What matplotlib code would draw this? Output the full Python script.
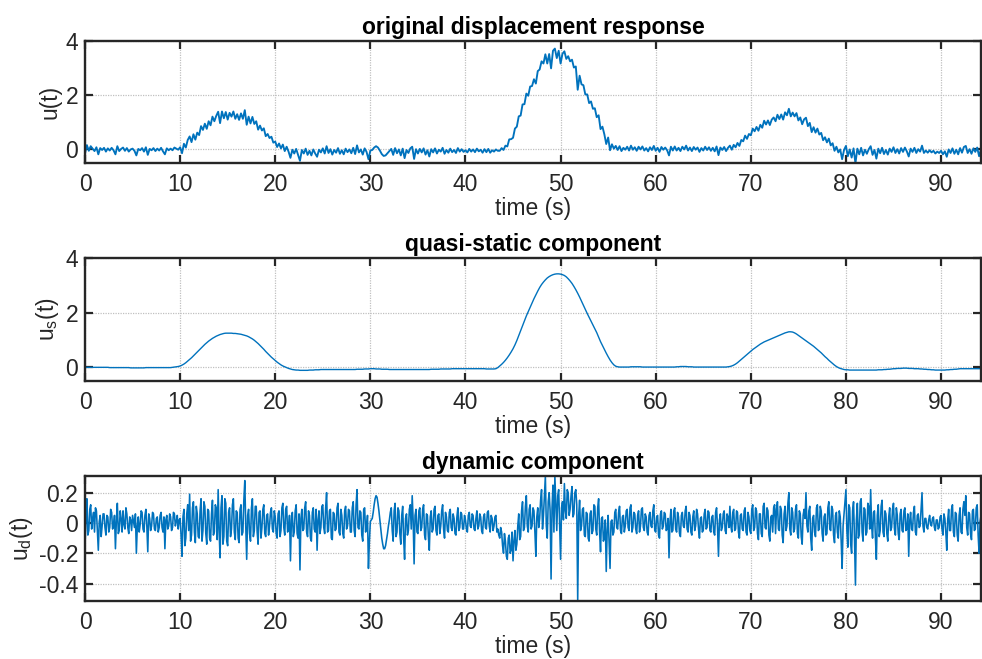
import numpy as np
import matplotlib
matplotlib.use("Agg")
import matplotlib.pyplot as plt

# ---------------- data ----------------
# quasi-static component, sampled every 0.2 s (0 .. 94.2 s)
dt_s = 0.2
us = [
    0, 0, 0, 0, 0,                      # 0
    0, 0, 0, 0, 0,                      # 1
    0, 0, 0, -.01, -.01,                # 2
    -.01, -.01, -.01, -.01, -.01,       # 3
    -.01, -.01, -.01, -.01, -.02,       # 4
    -.02, -.02, -.02, -.02, -.02,       # 5
    -.02, -.02, -.01, -.01, -.01,       # 6
    -.01, -.01, -.01, -.01, -.01,       # 7
    -.01, -.01, -.01, -.01, -.01,       # 8
    -.01, 0, .01, .02, .03,             # 9
    .05, .08, .12, .17, .23,            # 10
    .29, .35, .42, .49, .56,            # 11
    .63, .70, .77, .84, .90,            # 12
    .96, 1.01, 1.06, 1.10, 1.14,        # 13
    1.17, 1.20, 1.22, 1.24, 1.25,       # 14
    1.25, 1.25, 1.25, 1.24, 1.24,       # 15
    1.23, 1.22, 1.21, 1.19, 1.17,       # 16
    1.15, 1.12, 1.08, 1.04, .99,        # 17
    .93, .87, .80, .73, .66,            # 18
    .58, .51, .44, .37, .31,            # 19
    .25, .19, .14, .09, .05,            # 20
    .02, -.01, -.04, -.06, -.08,        # 21
    -.09, -.10, -.10, -.11, -.11,       # 22
    -.11, -.11, -.11, -.10, -.10,       # 23
    -.10, -.09, -.09, -.09, -.08,       # 24
    -.08, -.08, -.08, -.08, -.08,       # 25
    -.08, -.08, -.08, -.08, -.08,       # 26
    -.08, -.08, -.08, -.08, -.08,       # 27
    -.08, -.08, -.08, -.07, -.07,       # 28
    -.07, -.07, -.06, -.06, -.06,       # 29
    -.05, -.05, -.05, -.06, -.06,       # 30
    -.06, -.07, -.07, -.07, -.07,       # 31
    -.08, -.08, -.08, -.08, -.08,       # 32
    -.08, -.08, -.08, -.08, -.08,       # 33
    -.08, -.08, -.08, -.08, -.08,       # 34
    -.08, -.08, -.08, -.08, -.08,       # 35
    -.08, -.08, -.07, -.07, -.07,       # 36
    -.07, -.07, -.06, -.06, -.06,       # 37
    -.06, -.06, -.06, -.05, -.05,       # 38
    -.05, -.05, -.05, -.05, -.05,       # 39
    -.05, -.05, -.05, -.05, -.05,       # 40
    -.05, -.05, -.05, -.05, -.05,       # 41
    -.05, -.06, -.06, -.06, -.06,       # 42
    -.06, -.05, -.01, .05, .11,         # 43
    .18, .26, .35, .45, .56,            # 44
    .68, .82, .98, 1.16, 1.34,          # 45
    1.52, 1.70, 1.88, 2.04, 2.20,       # 46
    2.36, 2.51, 2.65, 2.79, 2.92,       # 47
    3.03, 3.12, 3.20, 3.27, 3.32,       # 48
    3.36, 3.39, 3.41, 3.42, 3.42,       # 49
    3.41, 3.39, 3.36, 3.31, 3.24,       # 50
    3.16, 3.07, 2.96, 2.84, 2.71,       # 51
    2.57, 2.42, 2.27, 2.12, 1.97,       # 52
    1.83, 1.69, 1.55, 1.41, 1.27,       # 53
    1.10, .94, .80, .66, .52,           # 54
    .39, .27, .17, .09, .04,            # 55
    .02, .01, .01, .01, .01,            # 56
    .01, .01, .02, .02, .02,            # 57
    .02, .02, .02, .01, .01,            # 58
    .01, .01, .01, .01, .01,            # 59
    .01, .01, .01, .01, .01,            # 60
    .01, .01, .01, .01, .01,            # 61
    .01, .02, .02, .03, .03,            # 62
    .03, .03, .02, .02, .02,            # 63
    .01, .01, .01, .01, .01,            # 64
    .01, .01, .01, .01, .01,            # 65
    .01, .01, .01, .01, .01,            # 66
    .01, .01, .01, .02, .03,            # 67
    .05, .08, .12, .17, .23,            # 68
    .29, .35, .41, .47, .53,            # 69
    .59, .65, .70, .75, .80,            # 70
    .85, .89, .93, .96, .99,            # 71
    1.02, 1.05, 1.08, 1.11, 1.14,       # 72
    1.17, 1.20, 1.23, 1.26, 1.28,       # 73
    1.30, 1.30, 1.29, 1.26, 1.22,       # 74
    1.17, 1.12, 1.07, 1.02, .97,        # 75
    .92, .87, .82, .77, .71,            # 76
    .65, .59, .53, .46, .39,            # 77
    .33, .26, .20, .14, .08,            # 78
    .03, -.01, -.04, -.06, -.08,        # 79
    -.09, -.09, -.10, -.10, -.10,       # 80
    -.10, -.10, -.10, -.10, -.10,       # 81
    -.10, -.10, -.10, -.10, -.10,       # 82
    -.10, -.10, -.09, -.09, -.09,       # 83
    -.08, -.08, -.07, -.07, -.06,       # 84
    -.05, -.05, -.04, -.04, -.04,       # 85
    -.03, -.03, -.03, -.04, -.04,       # 86
    -.04, -.05, -.05, -.05, -.06,       # 87
    -.06, -.07, -.07, -.08, -.08,       # 88
    -.09, -.09, -.10, -.10, -.10,       # 89
    -.10, -.10, -.10, -.09, -.09,       # 90
    -.08, -.08, -.07, -.07, -.06,       # 91
    -.05, -.05, -.05, -.05, -.05,       # 92
    -.05, -.05, -.05, -.05, -.05,       # 93
    -.05, -.05,                         # 94
]

# dynamic component, sampled every 0.1 s (0 .. 94.2 s)
dt_d = 0.1
ud = [
    -.15, .02, .16, -.08, -.05, .09, .12, -.04, .03, .07,     # 0
    -.06, .10, .08, -.05, -.18, .01, .05, -.09, -.02, .06,    # 1
    .06, -.03, -.08, .05, .04, -.06, -.03, .09, .07, -.04,    # 2
    -.02, .05, -.17, .02, .13, -.07, -.05, .08, .03, -.06,    # 3
    .08, -.01, -.04, .10, .06, -.03, -.07, .04, .02, -.05,    # 4
    .05, .01, -.03, .06, -.20, -.02, .04, -.06, -.01, .08,    # 5
    .07, -.04, -.06, .05, .09, -.02, -.19, .06, .03, -.05,    # 6
    -.02, .07, .06, -.04, -.05, .03, .04, -.06, -.03, .05,    # 7
    .07, -.03, -.06, .04, -.17, .02, .05, -.04, -.02, .06,    # 8
    .04, -.05, -.03, .07, .06, -.02, .01, .05, -.04, .02,     # 9
    .03, -.08, -.22, .04, .09, -.15, -.10, .06, .12, -.05,    # 10
    .19, -.12, -.08, .10, .14, -.06, -.13, .11, .06, -.09,    # 11
    -.10, .08, .16, -.12, -.05, .14, .11, -.07, -.14, .09,    # 12
    .08, -.10, -.12, .06, .15, -.08, -.06, .12, .10, -.11,    # 13
    .22, -.05, -.23, .10, .18, -.14, -.09, .16, .13, -.12,    # 14
    -.15, .07, .10, -.09, -.04, .12, .16, -.06, -.11, .08,    # 15
    .07, -.10, -.13, .09, .12, -.08, -.06, .15, .28, -.02,    # 16
    -.24, .05, .09, -.07, -.12, .10, .16, -.09, -.05, .11,    # 17
    .11, -.06, -.14, .07, .08, -.10, -.03, .09, .12, -.07,    # 18
    -.09, .05, .06, -.08, -.02, .07, .10, -.04, -.06, .08,    # 19
    .04, -.07, -.10, .06, .08, -.09, -.05, .10, .13, -.03,    # 20
    -.08, .09, .11, -.06, -.04, .05, -.25, .02, .07, -.09,    # 21
    -.06, .08, .12, -.07, -.10, .06, -.31, .03, .09, -.05,    # 22
    -.04, .10, .14, -.06, -.09, .08, .05, -.10, -.12, .07,    # 23
    .10, -.04, -.06, .09, -.18, .02, .08, -.07, -.03, .11,    # 24
    .12, -.03, -.07, .10, .20, -.06, -.05, .08, .09, -.10,    # 25
    -.11, .07, .06, -.05, -.04, .10, .13, -.06, -.08, .09,    # 26
    .05, -.07, -.10, .08, .11, -.04, -.02, .09, .08, -.06,    # 27
    -.06, .10, .14, -.05, -.09, .12, .22, -.03, -.04, .08,    # 28
    .07, -.08, -.12, .09, .10, -.06, -.03, .05, -.30, -.12,   # 29
    .01, .02, .03, .07, .12, .16, .18, .17, .13, .08,         # 30
    .02, -.04, -.10, -.14, -.17, -.17, -.15, -.11, -.07, -.02,  # 31
    .02, .07, .10, -.05, -.12, .08, .13, -.09, -.06, .10,     # 32
    .08, -.07, -.14, .05, .11, -.10, -.24, .03, .06, -.08,    # 33
    -.05, .09, .12, -.04, .18, .02, -.27, .05, .09, -.06,     # 34
    -.07, .08, .10, -.05, -.03, .09, .12, -.08, -.11, .06,    # 35
    .05, -.09, -.18, .04, .08, -.06, -.04, .09, .11, -.05,    # 36
    -.08, .05, .06, -.07, -.02, .08, .12, -.04, -.10, .07,    # 37
    .04, -.05, -.06, .07, .09, -.03, -.05, .06, .03, -.07,    # 38
    -.08, .04, .10, -.05, -.03, .07, .06, -.04, -.04, .05,    # 39
    .02, -.04, -.06, .05, .07, -.02, -.03, .06, .05, -.04,    # 40
    -.05, .03, .08, -.04, -.02, .06, .04, -.05, -.07, .04,    # 41
    .06, -.03, -.04, .07, .08, -.02, -.06, .05, .03, -.05,    # 42
    -.02, .04, .05, -.06, -.04, -.08, -.10, -.03, -.06, -.15, # 43
    -.20, -.07, -.12, -.22, -.24, -.10, -.08, -.20, -.18, -.06,  # 44
    -.25, -.12, -.05, -.18, -.14, -.02, .06, -.11, -.09, .08, # 45
    .14, -.05, -.03, .11, .18, -.02, -.06, .09, .12, -.04,    # 46
    -.02, .10, .08, -.06, -.22, .04, .10, -.03, .03, .15,     # 47
    .22, -.04, .05, .18, .31, -.02, -.10, .14, .20, .08,      # 48
    -.37, .10, .25, -.06, .31, .12, -.05, .18, .22, -.02,     # 49
    -.24, .10, .14, .02, .26, .08, .03, .22, .20, .05,        # 50
    .09, .18, .24, .04, .06, .20, .22, .12, -.51, .05,        # 51
    .15, -.05, -.02, .09, .10, -.08, -.09, .07, .06, -.10,    # 52
    -.12, .06, .08, -.07, -.05, .12, .11, -.04, -.08, .10,    # 53
    .16, -.06, -.19, .03, .04, -.12, -.10, .02, -.32, -.05,   # 54
    .05, -.12, -.30, .01, .02, -.08, -.06, .07, .09, -.03,    # 55
    -.04, .07, .11, -.05, -.07, .04, .05, -.06, -.02, .08,    # 56
    .09, -.03, -.05, .10, .12, -.06, -.03, .07, .06, -.04,    # 57
    -.07, .05, .08, -.06, -.02, .09, .10, -.03, -.05, .06,    # 58
    .04, -.06, -.08, .05, .07, -.02, -.03, .08, .12, -.05,    # 59
    -.06, .04, .05, -.08, -.10, .06, .08, -.04, -.02, .07,    # 60
    .06, -.05, -.04, .03, -.23, .01, .09, -.06, -.05, .08,    # 61
    .10, -.04, -.06, .07, .04, -.07, -.09, .05, .07, -.02,    # 62
    -.03, .08, .11, -.04, -.06, .07, .05, -.06, -.08, .04,    # 63
    .08, -.05, -.02, .09, .06, -.04, -.10, .03, .04, -.06,    # 64
    -.05, .06, .09, -.04, -.03, .08, .07, -.05, -.06, .04,    # 65
    .05, -.06, -.08, .07, .10, -.03, -.22, .02, .06, -.05,    # 66
    -.03, .06, .08, -.05, -.07, .06, .04, -.03, .11, -.02,    # 67
    -.06, .07, .09, -.05, -.04, .08, .07, -.06, -.10, .05,    # 68
    .06, -.04, -.05, .08, .10, -.06, -.08, .07, .04, -.05,    # 69
    -.07, .09, .12, -.05, -.03, .10, .08, -.07, -.11, .06,    # 70
    .06, -.07, -.09, .11, .13, -.03, -.04, .10, .08, -.08,    # 71
    -.12, .04, .05, -.06, .10, .12, -.07, .09, .14, -.04,     # 72
    -.05, .11, .09, -.08, -.13, .06, .11, -.05, -.02, .13,    # 73
    .20, -.04, -.08, .10, .07, -.06, -.04, .09, .12, -.07,    # 74
    -.10, .08, .06, -.09, -.14, .05, .09, .03, .20, -.02,     # 75
    -.06, .08, .11, -.10, -.18, .03, .05, -.06, -.09, .10,    # 76
    .12, -.05, -.04, .11, .08, -.07, -.12, .04, .06, -.08,    # 77
    -.07, .10, .14, -.04, -.05, .11, .09, -.08, -.13, .05,    # 78
    .07, -.06, -.10, .08, .04, -.12, -.30, -.02, .06, .14,    # 79
    .22, -.05, -.16, .12, .10, -.14, -.20, .08, .14, -.10,    # 80
    -.41, .02, .13, -.10, -.08, .14, .16, -.06, -.12, .10,    # 81
    .09, -.08, -.06, .13, .11, -.04, .22, -.02, -.10, .07,    # 82
    .08, -.10, -.24, .05, .12, -.09, -.05, .11, .15, -.06,    # 83
    -.09, .08, .06, -.07, -.12, .04, .10, -.05, -.03, .09,    # 84
    .13, -.04, -.08, .10, .05, -.07, -.11, .06, .09, -.05,    # 85
    -.06, .08, .10, -.05, -.04, .06, -.22, .01, .07, -.04,    # 86
    -.05, .07, .11, -.06, -.08, .05, .06, -.03, -.02, .09,    # 87
    .20, -.02, -.06, .03, .03, -.03, -.04, .02, .05, -.01,    # 88
    -.02, .03, .04, -.03, -.05, .02, .02, -.04, -.03, .04,    # 89
    .05, -.04, -.08, .06, .03, -.06, -.18, .02, .09, -.05,    # 90
    -.05, .09, .12, -.06, -.09, .07, .06, -.08, -.12, .05,    # 91
    .10, -.06, -.07, .09, .14, .05, .18, -.03, -.08, .07,     # 92
    .06, -.07, -.11, .08, .09, -.05, -.04, .10, .12, -.08,    # 93
    -.20, .01, .05,                                           # 94
]

titles = ["original displacement response", "quasi-static component", "dynamic component"]
ylabels = ["u(t)", "u$_{s}$(t)", "u$_{d}$(t)"]
xlabel = "time (s)"
xticks = [0, 10, 20, 30, 40, 50, 60, 70, 80, 90]
yticks_top = [0, 2, 4]
yticks_dyn = [-0.4, -0.2, 0, 0.2]
ytick_labels_dyn = ["-0.4", "-0.2", "0", "0.2"]

us = np.array(us, dtype=float)
ud = np.array(ud, dtype=float)
t_s = np.arange(len(us)) * dt_s
t_d = np.arange(len(ud)) * dt_d
# original response = quasi-static + dynamic (dynamic taken at the 0.2 s samples)
ud_on_s = ud[::2]
n = min(len(us), len(ud_on_s))
t_u = t_s[:n]
u = us[:n] + ud_on_s[:n]

# ---------------- styling ----------------
plt.rcParams["font.family"] = ["Liberation Sans", "DejaVu Sans"]
plt.rcParams["mathtext.default"] = "regular"
blue = "#0072BD"
dark = "#262626"
fs = 16.5

fig = plt.figure(figsize=(9.82, 6.59), dpi=100)
W, H = 982, 659
boxes = [(41, 163), (258, 381), (476, 601)]
left, right = 85, 981

xs = [t_u, t_s, t_d]
series = [u, us, ud]
widths = [1.35, 1.0, 1.15]
ylims = [(-0.5, 4), (-0.5, 4), (-0.515, 0.31)]

for i, (top, bot) in enumerate(boxes):
    ax = fig.add_axes([left / W, 1 - bot / H, (right - left) / W, (bot - top) / H])
    ax.plot(xs[i], series[i], color=blue, lw=widths[i])
    ax.set_xlim(0, 94.2)
    ax.set_ylim(*ylims[i])
    ax.set_xticks(xticks)
    if i < 2:
        ax.set_yticks(yticks_top)
    else:
        ax.set_yticks(yticks_dyn)
        ax.set_yticklabels(ytick_labels_dyn)
    ax.grid(True, color="#c0c0c0", linestyle=(0, (1, 1)), linewidth=0.9)
    ax.set_axisbelow(True)
    for s in ax.spines.values():
        s.set_color(dark)
        s.set_linewidth(1.7)
    ax.tick_params(direction="in", length=5.5, width=1.6, colors=dark,
                   labelsize=fs, top=True, right=True, pad=5)
    ax.tick_params(axis="x", pad=7)
    ax.set_xlabel(xlabel, fontsize=fs, color=dark, labelpad=1)
    ax.set_ylabel(ylabels[i], fontsize=fs, color=dark, labelpad=3)
    ax.set_title(titles[i], fontsize=fs, fontweight="bold", color="black", pad=5)

fig.savefig("out.png", dpi=100)
